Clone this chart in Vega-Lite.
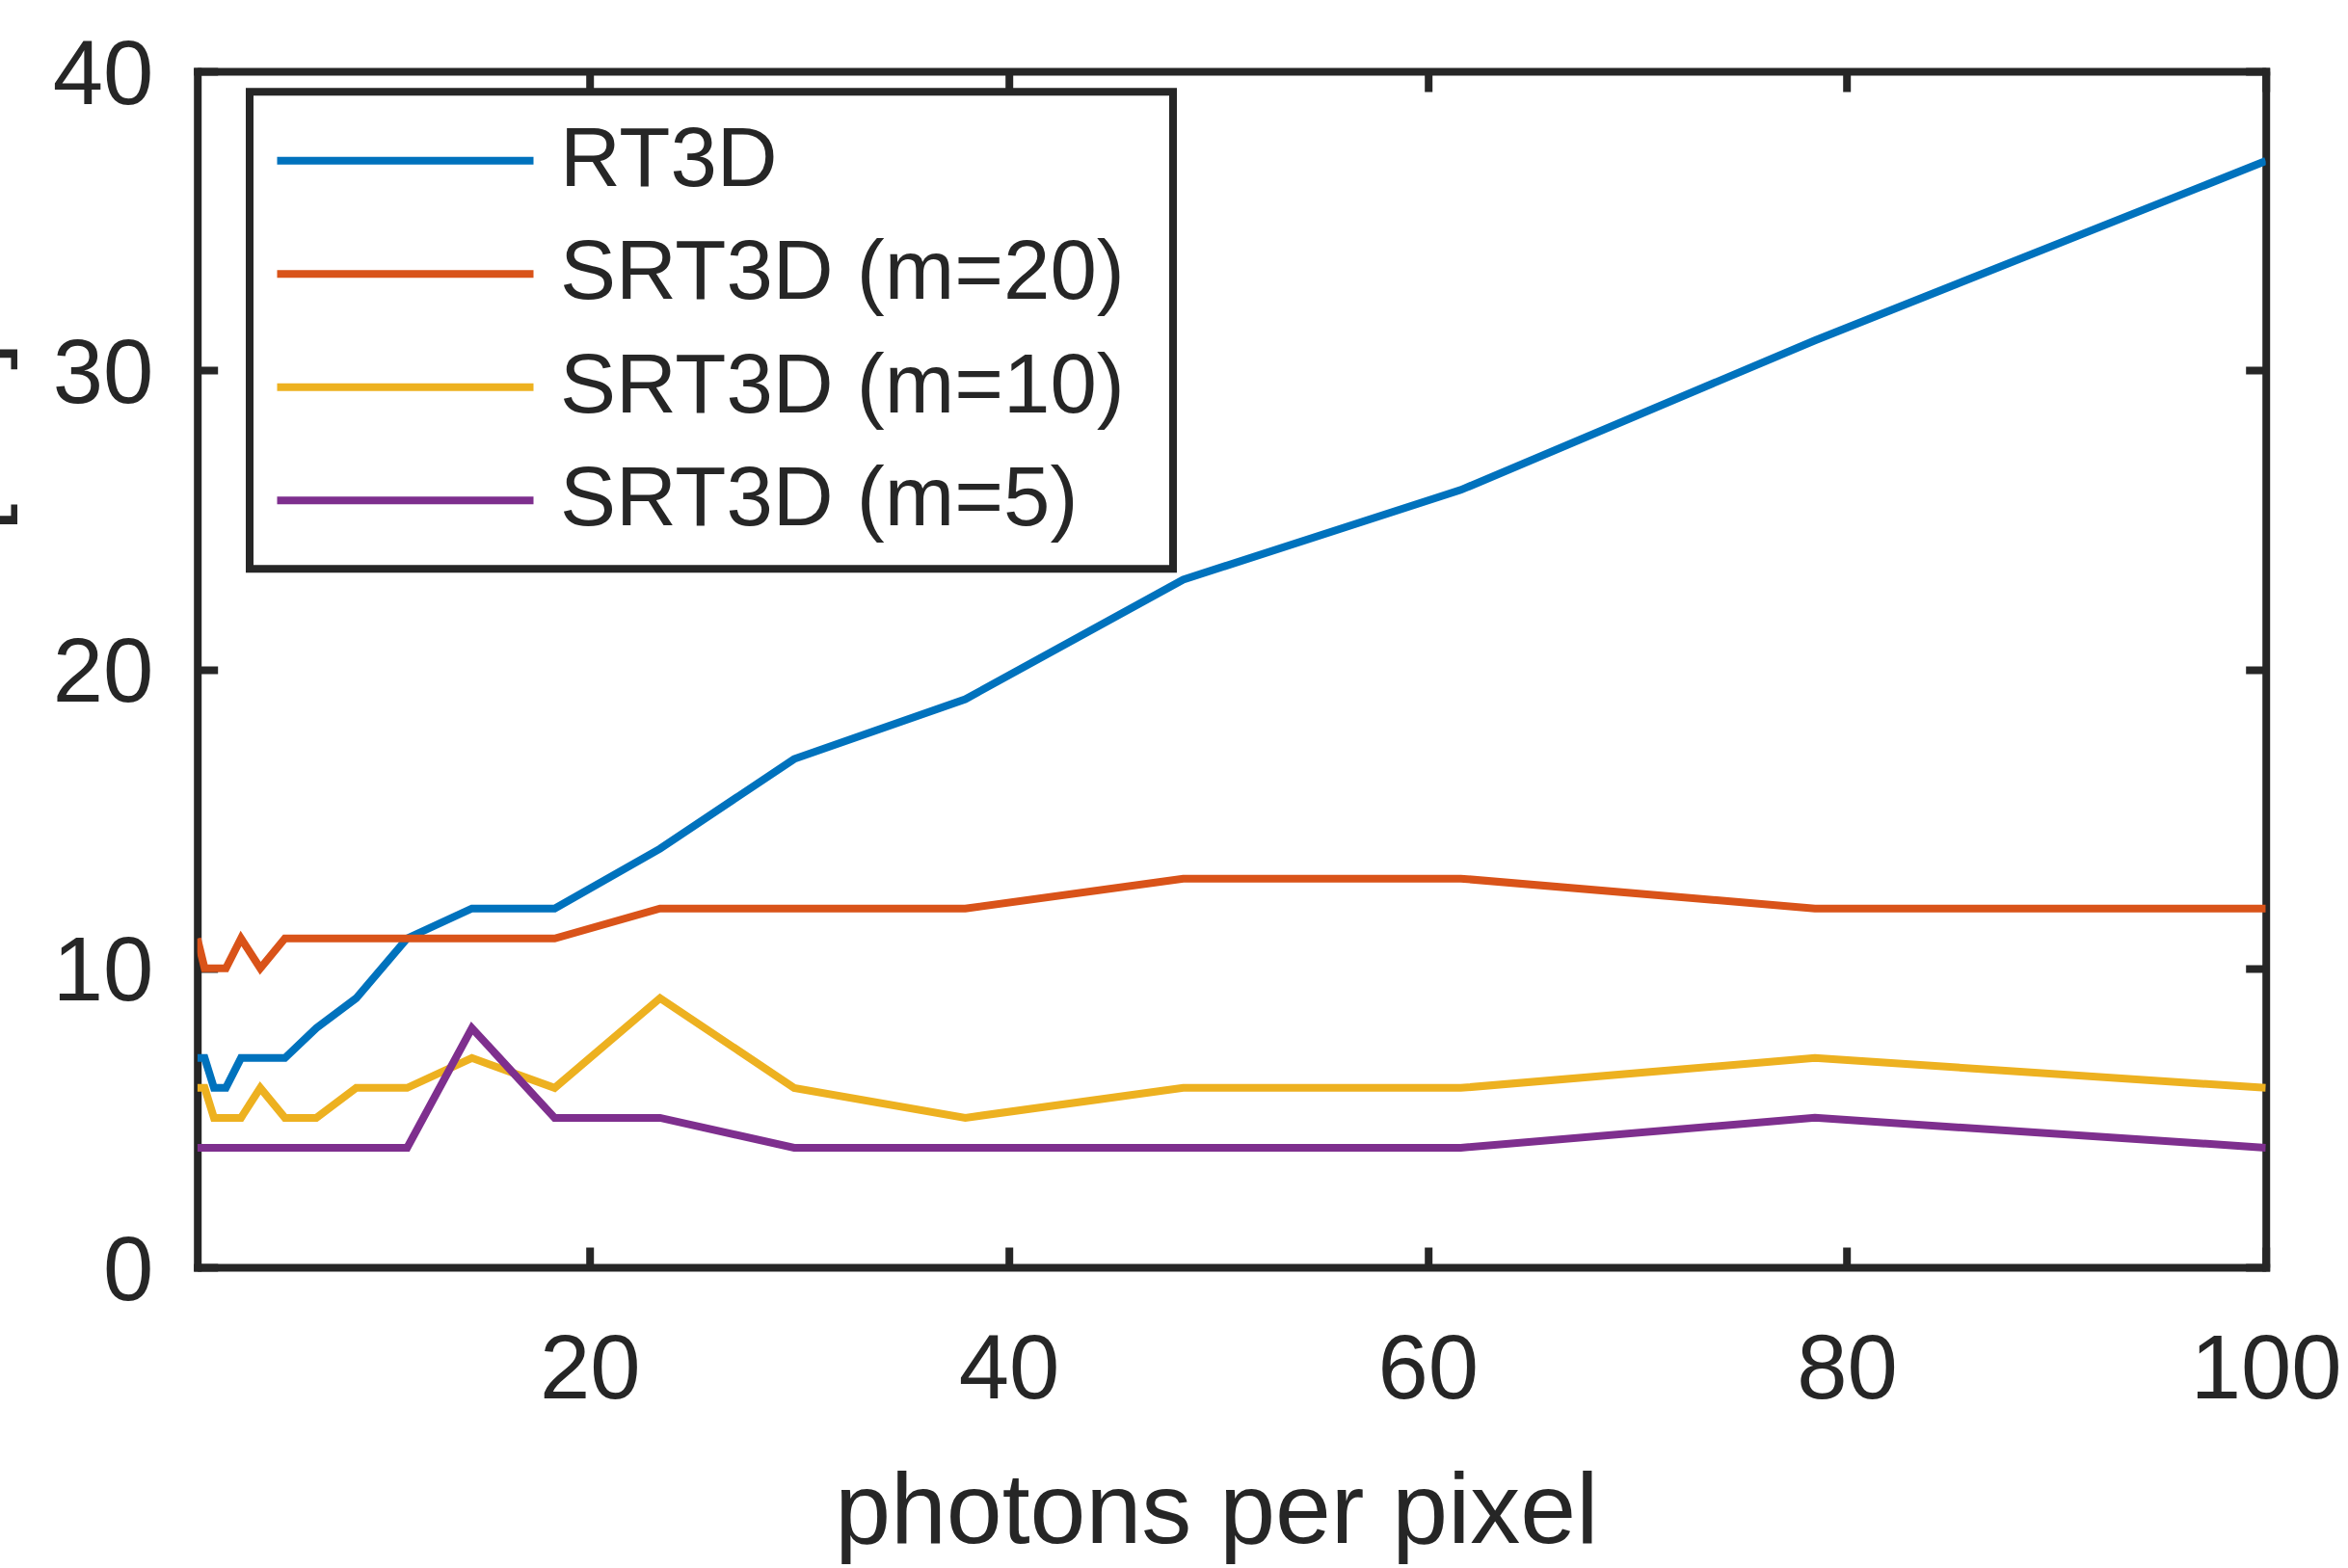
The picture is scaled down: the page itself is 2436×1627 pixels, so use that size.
{
  "$schema": "https://vega.github.io/schema/vega-lite/v6.json",
  "width": 2146,
  "height": 1241,
  "autosize": {"type": "none"},
  "padding": {"left": 204.7, "top": 74, "right": 85.3, "bottom": 312},
  "background": "white",
  "config": {
    "view": {"stroke": null},
    "font": "Liberation Sans",
    "axis": {
      "domainColor": "#262626", "domainWidth": 8, "domainCap": "square",
      "tickColor": "#262626", "tickWidth": 8, "tickSize": -21, "grid": false,
      "labelFont": "Liberation Sans", "labelFontSize": 94, "labelColor": "#262626",
      "labelFlush": false, "labelOverlap": false,
      "titleFont": "Liberation Sans", "titleFontSize": 104, "titleFontWeight": "normal", "titleColor": "#262626"
    }
  },
  "data": {"values": [
    {"photons": 1.274, "time": 7, "method": "RT3D"},
    {"photons": 1.624, "time": 7, "method": "RT3D"},
    {"photons": 2.069, "time": 6, "method": "RT3D"},
    {"photons": 2.637, "time": 6, "method": "RT3D"},
    {"photons": 3.360, "time": 7, "method": "RT3D"},
    {"photons": 4.281, "time": 7, "method": "RT3D"},
    {"photons": 5.456, "time": 7, "method": "RT3D"},
    {"photons": 6.952, "time": 8, "method": "RT3D"},
    {"photons": 8.859, "time": 9, "method": "RT3D"},
    {"photons": 11.29, "time": 11, "method": "RT3D"},
    {"photons": 14.38, "time": 12, "method": "RT3D"},
    {"photons": 18.33, "time": 12, "method": "RT3D"},
    {"photons": 23.36, "time": 14, "method": "RT3D"},
    {"photons": 29.76, "time": 17, "method": "RT3D"},
    {"photons": 37.93, "time": 19, "method": "RT3D"},
    {"photons": 48.33, "time": 23, "method": "RT3D"},
    {"photons": 61.58, "time": 26, "method": "RT3D"},
    {"photons": 78.48, "time": 31, "method": "RT3D"},
    {"photons": 100, "time": 37, "method": "RT3D"},
    {"photons": 1.274, "time": 11, "method": "SRT3D (m=20)"},
    {"photons": 1.624, "time": 10, "method": "SRT3D (m=20)"},
    {"photons": 2.069, "time": 10, "method": "SRT3D (m=20)"},
    {"photons": 2.637, "time": 10, "method": "SRT3D (m=20)"},
    {"photons": 3.360, "time": 11, "method": "SRT3D (m=20)"},
    {"photons": 4.281, "time": 10, "method": "SRT3D (m=20)"},
    {"photons": 5.456, "time": 11, "method": "SRT3D (m=20)"},
    {"photons": 6.952, "time": 11, "method": "SRT3D (m=20)"},
    {"photons": 8.859, "time": 11, "method": "SRT3D (m=20)"},
    {"photons": 11.29, "time": 11, "method": "SRT3D (m=20)"},
    {"photons": 14.38, "time": 11, "method": "SRT3D (m=20)"},
    {"photons": 18.33, "time": 11, "method": "SRT3D (m=20)"},
    {"photons": 23.36, "time": 12, "method": "SRT3D (m=20)"},
    {"photons": 29.76, "time": 12, "method": "SRT3D (m=20)"},
    {"photons": 37.93, "time": 12, "method": "SRT3D (m=20)"},
    {"photons": 48.33, "time": 13, "method": "SRT3D (m=20)"},
    {"photons": 61.58, "time": 13, "method": "SRT3D (m=20)"},
    {"photons": 78.48, "time": 12, "method": "SRT3D (m=20)"},
    {"photons": 100, "time": 12, "method": "SRT3D (m=20)"},
    {"photons": 1.274, "time": 6, "method": "SRT3D (m=10)"},
    {"photons": 1.624, "time": 6, "method": "SRT3D (m=10)"},
    {"photons": 2.069, "time": 5, "method": "SRT3D (m=10)"},
    {"photons": 2.637, "time": 5, "method": "SRT3D (m=10)"},
    {"photons": 3.360, "time": 5, "method": "SRT3D (m=10)"},
    {"photons": 4.281, "time": 6, "method": "SRT3D (m=10)"},
    {"photons": 5.456, "time": 5, "method": "SRT3D (m=10)"},
    {"photons": 6.952, "time": 5, "method": "SRT3D (m=10)"},
    {"photons": 8.859, "time": 6, "method": "SRT3D (m=10)"},
    {"photons": 11.29, "time": 6, "method": "SRT3D (m=10)"},
    {"photons": 14.38, "time": 7, "method": "SRT3D (m=10)"},
    {"photons": 18.33, "time": 6, "method": "SRT3D (m=10)"},
    {"photons": 23.36, "time": 9, "method": "SRT3D (m=10)"},
    {"photons": 29.76, "time": 6, "method": "SRT3D (m=10)"},
    {"photons": 37.93, "time": 5, "method": "SRT3D (m=10)"},
    {"photons": 48.33, "time": 6, "method": "SRT3D (m=10)"},
    {"photons": 61.58, "time": 6, "method": "SRT3D (m=10)"},
    {"photons": 78.48, "time": 7, "method": "SRT3D (m=10)"},
    {"photons": 100, "time": 6, "method": "SRT3D (m=10)"},
    {"photons": 1.274, "time": 4, "method": "SRT3D (m=5)"},
    {"photons": 1.624, "time": 4, "method": "SRT3D (m=5)"},
    {"photons": 2.069, "time": 4, "method": "SRT3D (m=5)"},
    {"photons": 2.637, "time": 4, "method": "SRT3D (m=5)"},
    {"photons": 3.360, "time": 4, "method": "SRT3D (m=5)"},
    {"photons": 4.281, "time": 4, "method": "SRT3D (m=5)"},
    {"photons": 5.456, "time": 4, "method": "SRT3D (m=5)"},
    {"photons": 6.952, "time": 4, "method": "SRT3D (m=5)"},
    {"photons": 8.859, "time": 4, "method": "SRT3D (m=5)"},
    {"photons": 11.29, "time": 4, "method": "SRT3D (m=5)"},
    {"photons": 14.38, "time": 8, "method": "SRT3D (m=5)"},
    {"photons": 18.33, "time": 5, "method": "SRT3D (m=5)"},
    {"photons": 23.36, "time": 5, "method": "SRT3D (m=5)"},
    {"photons": 29.76, "time": 4, "method": "SRT3D (m=5)"},
    {"photons": 37.93, "time": 4, "method": "SRT3D (m=5)"},
    {"photons": 48.33, "time": 4, "method": "SRT3D (m=5)"},
    {"photons": 61.58, "time": 4, "method": "SRT3D (m=5)"},
    {"photons": 78.48, "time": 5, "method": "SRT3D (m=5)"},
    {"photons": 100, "time": 4, "method": "SRT3D (m=5)"}
  ]},
  "layer": [
    {
      "mark": {"type": "line", "strokeWidth": 8, "clip": true},
      "encoding": {
        "x": {"field": "photons", "type": "quantitative",
              "scale": {"domain": [1.274, 100], "nice": false, "zero": false},
              "axis": {"orient": "bottom", "values": [20, 40, 60, 80, 100], "labelPadding": 82,
                       "title": "photons per pixel", "titleX": 1057, "titleY": 285, "titleBaseline": "alphabetic"}},
        "y": {"field": "time", "type": "quantitative",
              "scale": {"domain": [0, 40], "nice": false, "zero": false},
              "axis": {"orient": "left", "values": [0, 10, 20, 30, 40], "labelPadding": 67, "labelOffset": 5,
                       "title": "run time [ms]", "titleX": -187.7, "titleY": 581, "titleBaseline": "bottom", "titleAngle": 270}},
        "color": {"field": "method", "type": "nominal",
                  "scale": {"domain": ["RT3D", "SRT3D (m=20)", "SRT3D (m=10)", "SRT3D (m=5)"],
                            "range": ["#0072BD", "#D95319", "#EDB120", "#7E2F8E"]},
                  "legend": {"orient": "none", "legendX": 54.3, "legendY": 21.2,
                             "title": "\u2800", "titleOrient": "right", "titleFontSize": 20, "titlePadding": 7,
                             "strokeColor": "#262626", "fillColor": "white", "padding": 28,
                             "symbolType": "M-2.15,0H11.15", "symbolSize": 1600, "symbolStrokeWidth": 8,
                             "symbolFillColor": "transparent",
                             "labelFont": "Liberation Sans", "labelFontSize": 87, "labelColor": "#262626",
                             "labelOffset": 207, "rowPadding": 29.5, "labelLimit": 0,
                             "encode": {"legend": {"update": {"strokeWidth": {"value": 8}}}}}}
      }
    },
    {
      "mark": {"type": "line", "strokeOpacity": 0},
      "encoding": {
        "x": {"field": "photons", "type": "quantitative",
              "axis": {"orient": "top", "values": [20, 40, 60, 80, 100], "labels": false, "title": null}},
        "y": {"field": "time", "type": "quantitative",
              "axis": {"orient": "right", "values": [0, 10, 20, 30, 40], "labels": false, "title": null}},
        "detail": {"field": "method", "type": "nominal"}
      }
    }
  ]
}
